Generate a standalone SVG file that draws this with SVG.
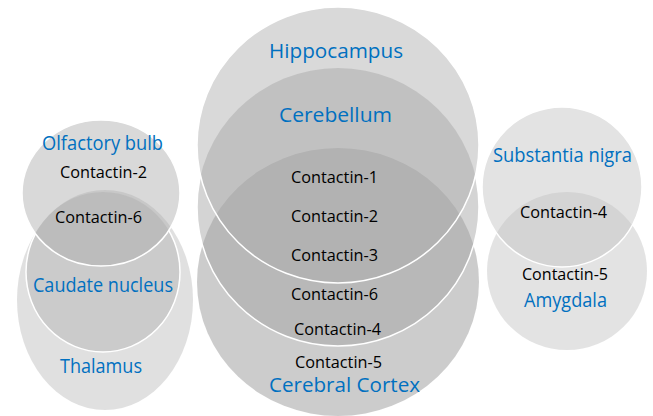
<svg xmlns="http://www.w3.org/2000/svg" width="653" height="416" viewBox="0 0 653 416">
<style>
.c{fill-opacity:0.45;stroke:none}
.ln{fill:none;stroke:#ffffff;stroke-width:1.5}
.lbl{font-family:"Open Sans","Liberation Sans",sans-serif;font-size:19.5px;fill:#0070c0;text-anchor:middle}
.t{font-family:"Open Sans","Liberation Sans",sans-serif;font-size:16px;fill:#000000;text-anchor:middle}
</style>
<defs>
<mask id="outHip" maskUnits="userSpaceOnUse" x="0" y="0" width="653" height="416">
<rect x="0" y="0" width="653" height="416" fill="#fff"/>
<ellipse cx="338" cy="145" rx="141" ry="138" fill="#000"/>
</mask>
<mask id="outOlf" maskUnits="userSpaceOnUse" x="0" y="0" width="653" height="416">
<rect x="0" y="0" width="653" height="416" fill="#fff"/>
<ellipse cx="101" cy="193" rx="79" ry="73" fill="#000"/>
</mask>
</defs>
<rect width="653" height="416" fill="#ffffff"/>
<g id="shapes">
<g id="thalamus-shape">
<ellipse class="c" cx="105" cy="300" rx="88" ry="110" fill="#bababa"/>
</g>
<g id="caudate-nucleus-shape">
<ellipse class="c" cx="103" cy="272" rx="77" ry="80" fill="#b1b1b1"/>
<ellipse class="ln" cx="103" cy="272" rx="77" ry="80" mask="url(#outOlf)"/>
</g>
<g id="olfactory-bulb-shape">
<ellipse class="c" cx="101" cy="193" rx="79" ry="73" fill="#ababab"/>
<ellipse class="ln" cx="101" cy="193" rx="79" ry="73"/>
</g>
<g id="cerebral-cortex-shape">
<ellipse class="c" cx="338" cy="282" rx="141" ry="134" fill="#8e8e8e"/>
</g>
<g id="cerebellum-shape">
<ellipse class="c" cx="338" cy="207" rx="141" ry="139" fill="#a0a0a0"/>
<ellipse class="ln" cx="338" cy="207" rx="141" ry="139" mask="url(#outHip)"/>
</g>
<g id="hippocampus-shape">
<ellipse class="c" cx="338" cy="145" rx="141" ry="138" fill="#ababab"/>
<ellipse class="ln" cx="338" cy="145" rx="141" ry="138"/>
</g>
<g id="amygdala-shape">
<ellipse class="c" cx="567" cy="271" rx="80" ry="79" fill="#c2c2c2"/>
</g>
<g id="substantia-nigra-shape">
<ellipse class="c" cx="562" cy="187" rx="80" ry="80" fill="#c2c2c2"/>
<ellipse class="ln" cx="562" cy="187" rx="80" ry="80"/>
</g>
</g>
<g id="connectors"></g>
<g id="thalamus"><text class="lbl" x="101" y="373" textLength="82" lengthAdjust="spacingAndGlyphs">Thalamus</text></g>
<g id="caudate-nucleus"><text class="lbl" x="103" y="292" textLength="140" lengthAdjust="spacingAndGlyphs">Caudate nucleus</text></g>
<g id="olfactory-bulb"><text class="lbl" x="102.5" y="150" textLength="121" lengthAdjust="spacingAndGlyphs">Olfactory bulb</text></g>
<g id="cerebral-cortex"><text class="lbl" x="344.5" y="392" textLength="151" lengthAdjust="spacingAndGlyphs">Cerebral Cortex</text></g>
<g id="cerebellum"><text class="lbl" x="335.5" y="122" textLength="113" lengthAdjust="spacingAndGlyphs">Cerebellum</text></g>
<g id="hippocampus"><text class="lbl" x="336" y="58" textLength="134" lengthAdjust="spacingAndGlyphs">Hippocampus</text></g>
<g id="amygdala"><text class="lbl" x="565.5" y="307" textLength="83" lengthAdjust="spacingAndGlyphs">Amygdala</text></g>
<g id="substantia-nigra"><text class="lbl" x="562.5" y="162" textLength="139" lengthAdjust="spacingAndGlyphs">Substantia nigra</text></g>
<g id="items">
<text class="t" x="103.5" y="178" textLength="87" lengthAdjust="spacingAndGlyphs">Contactin-2</text>
<text class="t" x="98.5" y="223" textLength="87" lengthAdjust="spacingAndGlyphs">Contactin-6</text>
<text class="t" x="334.5" y="183" textLength="87" lengthAdjust="spacingAndGlyphs">Contactin-1</text>
<text class="t" x="334.5" y="222" textLength="87" lengthAdjust="spacingAndGlyphs">Contactin-2</text>
<text class="t" x="334.5" y="261" textLength="87" lengthAdjust="spacingAndGlyphs">Contactin-3</text>
<text class="t" x="334.5" y="300" textLength="87" lengthAdjust="spacingAndGlyphs">Contactin-6</text>
<text class="t" x="337.5" y="335" textLength="87" lengthAdjust="spacingAndGlyphs">Contactin-4</text>
<text class="t" x="338.5" y="368" textLength="87" lengthAdjust="spacingAndGlyphs">Contactin-5</text>
<text class="t" x="563.5" y="218" textLength="87" lengthAdjust="spacingAndGlyphs">Contactin-4</text>
<text class="t" x="565" y="280" textLength="86" lengthAdjust="spacingAndGlyphs">Contactin-5</text>
</g>
</svg>
